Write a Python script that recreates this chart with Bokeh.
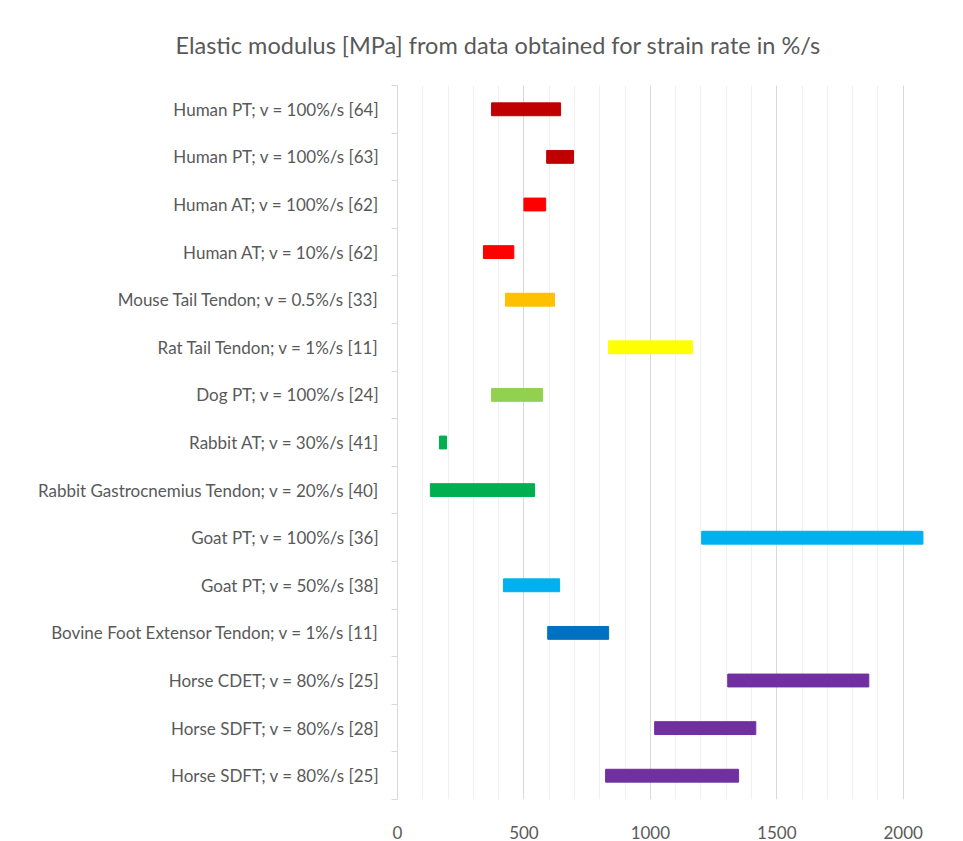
from bokeh.plotting import figure
from bokeh.models import FixedTicker, ColumnDataSource, Title
from bokeh.embed import file_html
from bokeh.resources import INLINE

# categories listed top to bottom
labels = [
    "Human PT; v = 100%/s [64]",
    "Human PT; v = 100%/s [63]",
    "Human AT; v = 100%/s [62]",
    "Human AT; v = 10%/s [62]",
    "Mouse Tail Tendon; v = 0.5%/s [33]",
    "Rat Tail Tendon; v = 1%/s [11]",
    "Dog PT; v = 100%/s [24]",
    "Rabbit AT; v = 30%/s [41]",
    "Rabbit Gastrocnemius Tendon; v = 20%/s [40]",
    "Goat PT; v = 100%/s [36]",
    "Goat PT; v = 50%/s [38]",
    "Bovine Foot Extensor Tendon; v = 1%/s [11]",
    "Horse CDET; v = 80%/s [25]",
    "Horse SDFT; v = 80%/s [28]",
    "Horse SDFT; v = 80%/s [25]",
]
low = [372, 590, 500, 340, 427, 835, 372, 166, 130, 1203, 419, 594, 1306, 1017, 823]
high = [645, 696, 586, 460, 621, 1167, 574, 194, 542, 2078, 641, 835, 1864, 1417, 1349]
colors = ["#C00000", "#C00000", "#FF0000", "#FF0000", "#FFC000", "#FFFF00", "#92D050",
          "#00B050", "#00B050", "#00B0F0", "#00B0F0", "#0070C0", "#7030A0", "#7030A0", "#7030A0"]
x_ticks = [0, 500, 1000, 1500, 2000]
x_minor = list(range(0, 2101, 100))

n = len(labels)
ypos = [n - 1 - i for i in range(n)]

src = ColumnDataSource(dict(y=ypos, left=low, right=high, color=colors))

p = figure(width=947, height=841, output_backend="svg", toolbar_location=None,
           x_range=(0, 2100), y_range=(-0.5, n - 0.5),
           min_border_left=397, min_border_right=19, min_border_top=85, min_border_bottom=41)
p.outline_line_color = None

p.hbar(y="y", left="left", right="right", height=0.27, color="color", source=src)

font = "Lato"
gray = "#595959"

# x axis
p.xaxis.ticker = FixedTicker(ticks=x_ticks, minor_ticks=x_minor)
p.xaxis.axis_line_color = None
p.xaxis.major_tick_line_color = None
p.xaxis.minor_tick_line_color = None
p.xaxis.major_label_text_font = font
p.xaxis.major_label_text_font_size = "17px"
p.xaxis.major_label_text_color = gray
p.xaxis.major_label_standoff = 20

p.xgrid.ticker = FixedTicker(ticks=x_ticks, minor_ticks=x_minor)
p.xgrid.grid_line_color = "#d9d9d9"
p.xgrid.grid_line_width = 1
p.xgrid.minor_grid_line_color = "#f0f0f0"
p.xgrid.minor_grid_line_width = 1
p.ygrid.grid_line_color = None

# y axis
p.yaxis.ticker = FixedTicker(ticks=ypos, minor_ticks=[k - 0.5 for k in range(n + 1)])
p.yaxis.major_label_overrides = {yv: lab for yv, lab in zip(ypos, labels)}
p.yaxis.axis_line_color = "#d9d9d9"
p.yaxis.major_tick_line_color = None
p.yaxis.minor_tick_line_color = "#d9d9d9"
p.yaxis.minor_tick_out = 6
p.yaxis.minor_tick_in = 0
p.yaxis.major_label_text_font = font
p.yaxis.major_label_text_font_size = "17px"
p.yaxis.major_label_text_color = gray
p.yaxis.major_label_standoff = 12

p.title = Title(text="Elastic modulus [MPa] from data obtained for strain rate in %/s",
                text_font=font, text_font_size="23.5px", text_font_style="normal",
                text_color=gray, align="left", offset=-222, standoff=54)

open("out.html", "w").write(file_html(p, INLINE))
